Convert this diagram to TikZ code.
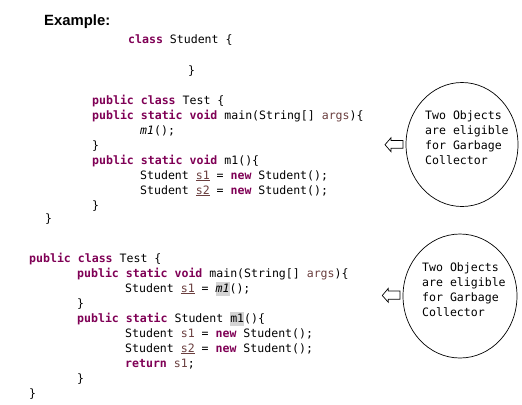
\documentclass[tikz,border=0pt]{standalone}
\usepackage{fontspec}
\setmainfont{Liberation Sans}
\newfontfamily\codefont{DejaVu Sans Mono}
\usetikzlibrary{shapes.geometric}
\definecolor{kwc}{HTML}{7F0055}
\definecolor{varc}{HTML}{6A3E3E}
\definecolor{hlc}{HTML}{D4D4D4}
\newcommand{\kw}[1]{{\bfseries\color{kwc}#1}}
\newcommand{\lv}[1]{{\color{varc}\underline{#1}}}
\newcommand{\pv}[1]{{\color{varc}#1}}
\newcommand{\hl}[1]{{\setlength{\fboxsep}{0pt}\colorbox{hlc}{\strut #1}}}
\begin{document}
\begin{tikzpicture}[x=1bp,y=-1bp,
  code/.style={anchor=base west,inner sep=0pt,font=\codefont\fontsize{11.6}{15}\selectfont},
  note/.style={anchor=base west,inner sep=0pt,font=\codefont\fontsize{11.6}{15}\selectfont},
  bubble/.style={draw,ellipse,line width=0.7pt,inner sep=0pt},
  hollowarrow/.style={draw,line width=0.7pt,fill=white}]
\useasboundingbox (0,0) rectangle (522,404);
\node[anchor=base west,inner sep=0pt,font=\bfseries\fontsize{14.9}{16}\selectfont] (ex) at (44,25) {Example:};
% block 1
\node[code] (a1) at (128,43) {\kw{class} Student \{};
\node[code] (a2) at (188,74) {\}};
\node[code] (a3) at (92,104) {\kw{public} \kw{class} Test \{};
\node[code] (a4) at (92,119) {\kw{public} \kw{static} \kw{void} main(String[] \pv{args})\{};
\node[code] (a5) at (140,134) {\textit{m1}();};
\node[code] (a6) at (92,149) {\}};
\node[code] (a7) at (92,164) {\kw{public} \kw{static} \kw{void} m1()\{};
\node[code] (a8) at (140,179) {Student \lv{s1} = \kw{new} Student();};
\node[code] (a9) at (140,194) {Student \lv{s2} = \kw{new} Student();};
\node[code] (a10) at (92,209) {\}};
\node[code] (a11) at (45,222) {\}};
% block 2
\node[code] (b1) at (29,262) {\kw{public} \kw{class} Test \{};
\node[code] (b2) at (77,277) {\kw{public} \kw{static} \kw{void} main(String[] \pv{args})\{};
\node[code] (b3) at (125,292) {Student \lv{s1} = \hl{\textit{m1}}();};
\node[code] (b4) at (77,307) {\}};
\node[code] (b5) at (77,322) {\kw{public} \kw{static} Student \hl{m1}()\{};
\node[code] (b6) at (125,337) {Student \pv{s1} = \kw{new} Student();};
\node[code] (b7) at (125,352) {Student \lv{s2} = \kw{new} Student();};
\node[code] (b8) at (125,367) {\kw{return} \pv{s1};};
\node[code] (b9) at (77,382) {\}};
\node[code] (b10) at (29,397) {\}};
% bubbles
\node[bubble,minimum width=112bp,minimum height=124bp] (e1) at (462,144.5) {};
\node[note] (t1a) at (425,119) {Two Objects};
\node[note] (t1b) at (425,134) {are eligible};
\node[note] (t1c) at (425,149) {for Garbage};
\node[note] (t1d) at (425,164) {Collector};
\node[bubble,minimum width=114bp,minimum height=124bp] (e2) at (460,296) {};
\node[note] (t2a) at (422,271) {Two Objects};
\node[note] (t2b) at (422,286) {are eligible};
\node[note] (t2c) at (422,301) {for Garbage};
\node[note] (t2d) at (422,316) {Collector};
% hollow arrows
\draw[hollowarrow] (385,144.7) -- (391,137.7) -- (391,140.5) -- (403,140.5) -- (403,148.3) -- (391,148.3) -- (391,151.7) -- cycle;
\draw[hollowarrow] (382.3,295.5) -- (388.3,288.3) -- (388.3,291) -- (400,291) -- (400,299.3) -- (388.3,299.3) -- (388.3,302.3) -- cycle;
\end{tikzpicture}
\end{document}
